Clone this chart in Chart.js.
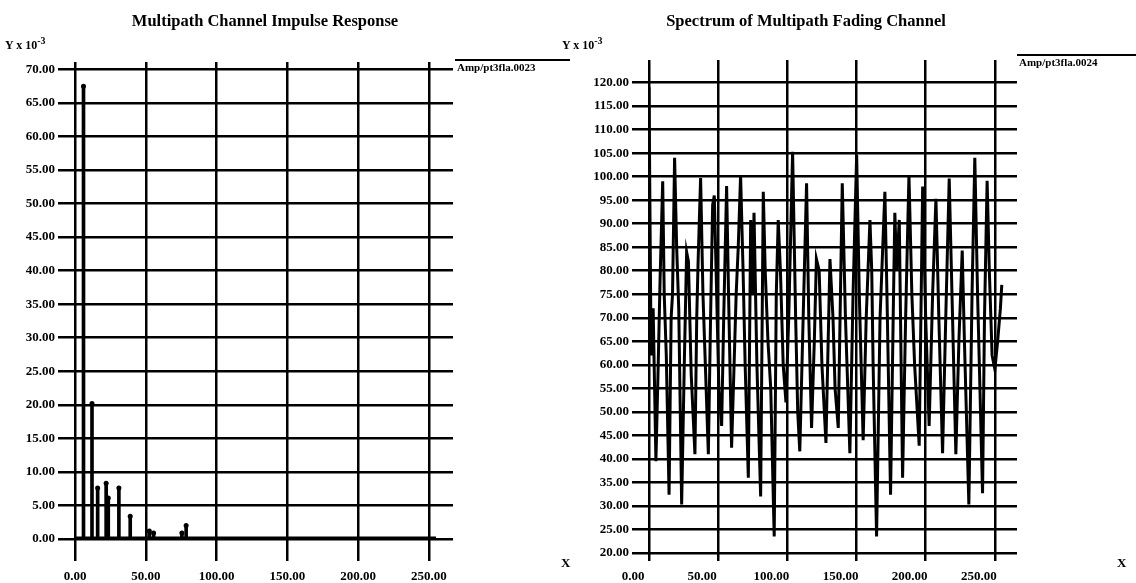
<!DOCTYPE html>
<html>
<head>
<meta charset="utf-8">
<script src="https://cdn.jsdelivr.net/npm/chart.js@4.4.0/dist/chart.umd.min.js"></script>
<style>
  body { margin: 0; background: #fff; width: 1136px; height: 583px; overflow: hidden; position: relative; }
  canvas { position: absolute; top: 0; }
  .txt { position: absolute; font-family: "Liberation Serif", "Times New Roman", serif; font-weight: bold; color: #000; white-space: nowrap; }
  .title { font-size: 16.5px; transform: translateX(-50%); }
  .ylab { font-size: 12px; }
  .ylab sup { font-size: 10px; }
  .legend { font-size: 11px; border-top: 2px solid #000; padding-left: 2px; line-height: 12px; }
</style>
</head>
<body>
<canvas id="impulseChart" width="568" height="583" style="left:0"></canvas>
<canvas id="spectrumChart" width="568" height="583" style="left:568px"></canvas>

<div class="txt title" style="left:265px; top:11px">Multipath Channel Impulse Response</div>
<div class="txt title" style="left:806px; top:11px">Spectrum of Multipath Fading Channel</div>
<div class="txt ylab" style="left:5px; top:35px">Y x 10<sup>-3</sup></div>
<div class="txt ylab" style="left:562px; top:35px">Y x 10<sup>-3</sup></div>
<div class="txt legend" style="left:455px; top:59px; width:113px">Amp/pt3fla.0023</div>
<div class="txt legend" style="left:1017px; top:54px; width:119px">Amp/pt3fla.0024</div>
<div class="txt" style="left:561px; top:555px; font-size:13px">X</div>
<div class="txt" style="left:1117px; top:555px; font-size:13px">X</div>

<script>
// ---------------------------------------------------------
// Data
// Impulse response stems (x = sample index, y = amplitude x 10^-3)
const stemX = [6, 12, 16, 22, 23.5, 31, 39, 52.5, 55.5, 75.5, 78.5];
const stemY = [67.5, 20.2, 7.6, 8.3, 6.1, 7.6, 3.4, 1.2, 0.9, 0.9, 2.0];
const baselineX = [0, 255];
const baselineY = [0, 0];

// Spectrum magnitude (peaks, troughs and shoulders along the trace)
const specX = [
  0, 1.5, 3, 5, 6.5, 8, 9.9, 11, 12.5, 14.5, 16, 17, 18.5, 20, 21.5, 23.6, 25.5, 27.2, 28.5, 30.5,
  33.2, 34.5, 35.5, 37.3, 39, 40.5, 42.9, 44.5, 46, 47.2, 48.5, 50.5, 52.5, 54, 56.1, 57.5, 59.7, 61.5,
  63, 64.5, 66.2, 68, 69.5, 71.8, 73.5, 74.8, 75.9, 78, 80.7, 82.6, 84, 86, 88, 90.5, 92, 93.4, 95, 97,
  99, 101, 103.8, 106, 107.5, 109, 111, 113.9, 115.5, 117.5, 119.5, 121, 123, 125, 127.9, 130.8, 133,
  134.5, 136.8, 139.7, 142, 145.2, 147.5, 150.1, 152, 154.8, 157, 159.7, 161, 162, 164.5, 167, 170.5,
  172, 174.6, 176.5, 177.7, 179, 180.9, 183.3, 185.5, 187.9, 190, 192, 195.3, 197.8, 200, 202.5, 205,
  207.4, 209.5, 212.2, 214.5, 217, 219, 221.8, 224, 226.4, 228, 231.2, 233.5, 235.5, 237.5, 241.1,
  242.5, 244.4, 246, 248, 250, 252, 254, 255
];
const specY = [
  119, 62, 72, 39.5, 58, 78, 99, 75, 62, 32.4, 70, 75, 104, 85, 72, 30.3, 60, 84, 82, 58,
  41, 70, 82, 99.7, 75, 62, 41, 70, 94, 96, 80, 55, 47, 70, 98, 75, 42.4, 60,
  75, 85, 100.3, 80, 60, 36, 90.8, 75, 92.3, 60, 32, 96.8, 80, 65, 55, 23.5, 75, 90.8, 80, 60,
  52, 70, 105.3, 70, 50, 41.6, 65, 98.6, 70, 46.6, 65, 82.5, 80, 60, 43.4, 82.5, 70,
  55, 46.6, 98.6, 70, 41.2, 75, 104.6, 75, 44, 70, 90.8, 80, 60, 23.5, 70, 96.8,
  75, 32.4, 70, 92.3, 80, 90.8, 36, 70, 100.3, 75, 60, 42.8, 97.9, 70, 47, 75,
  95.3, 70, 41.2, 70, 99.6, 75, 41, 65, 84.3, 65, 30.3, 75, 104, 75, 32.7,
  70, 99.1, 80, 62, 59, 65, 72, 77
];

// ---------------------------------------------------------
// Shared styling helpers
const serif = '"Liberation Serif", "Times New Roman", serif';
const tickFont = { family: serif, weight: "bold", size: 13 };
const toXY = (xs, ys) => xs.map((x, i) => ({ x: x, y: ys[i] }));
const fmt = (v) => Number(v).toFixed(2);

function axisX(max, tickLength, labelOffset, height, pad) {
  return {
    type: "linear",
    min: 0,
    max: max,
    offset: false, // bar charts default to an offset scale, keep 0 on the axis edge
    border: { display: false },
    grid: { offset: false, color: "#000", lineWidth: 2.5, tickLength: tickLength, tickWidth: 2.5, tickColor: "#000" },
    ticks: { stepSize: 50, includeBounds: false, color: "#000", font: tickFont, maxRotation: 0,
             padding: pad, labelOffset: labelOffset, callback: fmt },
    afterFit: (scale) => { scale.height = height; },
  };
}

function axisY(min, max, width) {
  return {
    min: min,
    max: max,
    border: { display: false },
    grid: { color: "#000", lineWidth: 2.5, tickLength: 17, tickWidth: 2.5, tickColor: "#000" },
    ticks: { stepSize: 5, includeBounds: false, color: "#000", font: tickFont, padding: 3, callback: fmt },
    afterFit: (scale) => { scale.width = width; },
  };
}

const noPlugins = { legend: { display: false }, tooltip: { enabled: false }, title: { display: false } };

// ---------------------------------------------------------
// Multipath Channel Impulse Response (stems)
new Chart(document.getElementById("impulseChart"), {
  type: "bar",
  data: {
    datasets: [
      { type: "bar", data: toXY(stemX, stemY), backgroundColor: "#000", barThickness: 3, order: 2 },
      { type: "scatter", data: toXY(stemX, stemY), pointRadius: 2.5, pointBackgroundColor: "#000",
        pointBorderWidth: 0, order: 1 },
      { type: "line", data: toXY(baselineX, baselineY), borderColor: "#000", borderWidth: 5,
        pointRadius: 0, order: 0 },
    ],
  },
  options: {
    responsive: false,
    animation: false,
    layout: { padding: { left: 0, top: 62, right: 115, bottom: 0 } },
    scales: { x: axisX(267, 22, 0, 44, 8), y: axisY(0, 71.1, 75) },
    plugins: noPlugins,
  },
});

// ---------------------------------------------------------
// Spectrum of Multipath Fading Channel (line)
new Chart(document.getElementById("spectrumChart"), {
  type: "line",
  data: {
    datasets: [
      { data: toXY(specX, specY), borderColor: "#000", borderWidth: 3, pointRadius: 0, tension: 0 },
    ],
  },
  options: {
    responsive: false,
    animation: false,
    layout: { padding: { left: 0, top: 60, right: 119, bottom: 0 } },
    scales: { x: axisX(266, 8, -16, 30, 8), y: axisY(20, 124.8, 81) },
    plugins: noPlugins,
  },
});
</script>
</body>
</html>
